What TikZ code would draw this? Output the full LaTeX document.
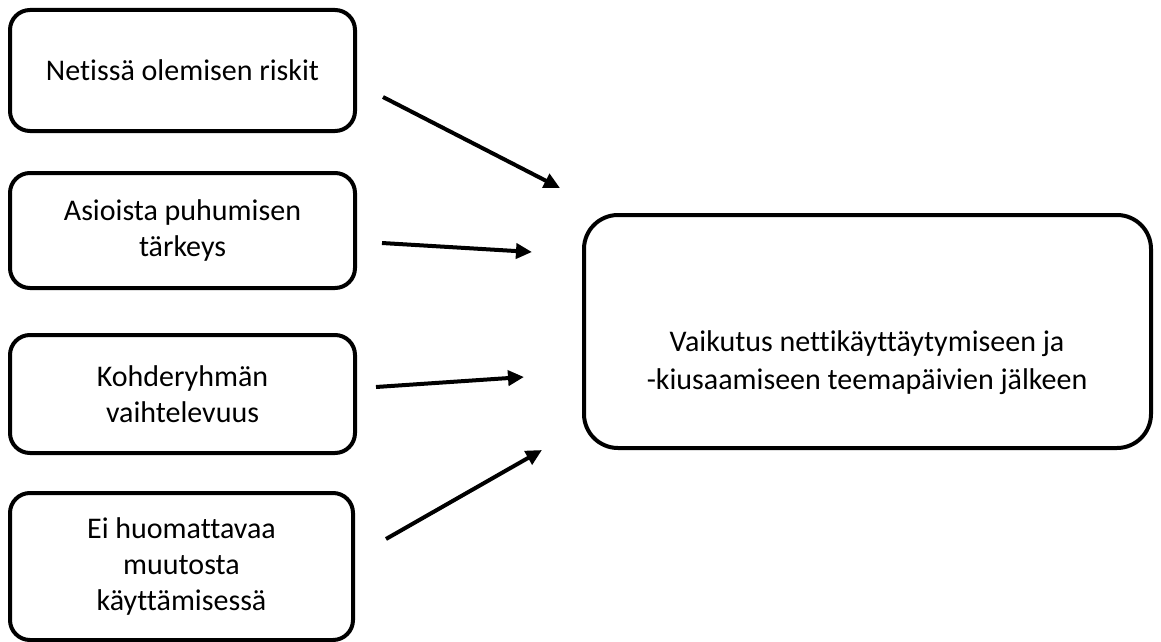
\documentclass[tikz,border=0pt]{standalone}
\usepackage{fontspec}
\setmainfont{Carlito}[Ligatures={NoCommon}]
\usetikzlibrary{arrows.meta}
\begin{document}
\begin{tikzpicture}[x=1pt,y=-1pt,
  box/.style={draw=black, line width=4pt, rounded corners=20pt, align=center,
    font=\fontsize{30}{36}\selectfont, inner sep=0pt},
  bigbox/.style={draw=black, line width=4pt, rounded corners=34pt, inner sep=0pt},
  txt/.style={align=center, font=\fontsize{30}{38}\selectfont, inner sep=0pt},
  arr/.style={line width=4pt, -{Triangle[length=16pt,width=15pt]}}
]
\useasboundingbox (0,0) rectangle (1161,642);
\node[box, minimum width=345pt, minimum height=121pt] (b1) at (182.5,70.5) {Netissä olemisen riskit};
\node[box, minimum width=345pt, minimum height=115pt] (b2) at (182.5,230.5) {Asioista puhumisen\\tärkeys};
\node[box, minimum width=345pt, minimum height=118pt] (b3) at (182.5,394) {Kohderyhmän\\vaihtelevuus};
\node[box, minimum width=343pt, minimum height=147pt] (b4) at (181.5,566.5) {Ei huomattavaa\\muutosta\\käyttämisessä};
\node[bigbox, minimum width=567pt, minimum height=233pt] (out) at (867.5,331.5) {};
\node[txt] (outtext) at (867,363) {Vaikutus nettikäyttäytymiseen ja\\-kiusaamiseen teemapäivien jälkeen};
\coordinate (s1) at (383,97);  \coordinate (e1) at (560,188);
\coordinate (s2) at (382,243); \coordinate (e2) at (532,252);
\coordinate (s3) at (376,387); \coordinate (e3) at (524,377);
\coordinate (s4) at (386,539); \coordinate (e4) at (542,450);
\draw[arr] (s1) -- (e1);
\draw[arr] (s2) -- (e2);
\draw[arr] (s3) -- (e3);
\draw[arr] (s4) -- (e4);
\end{tikzpicture}
\end{document}
